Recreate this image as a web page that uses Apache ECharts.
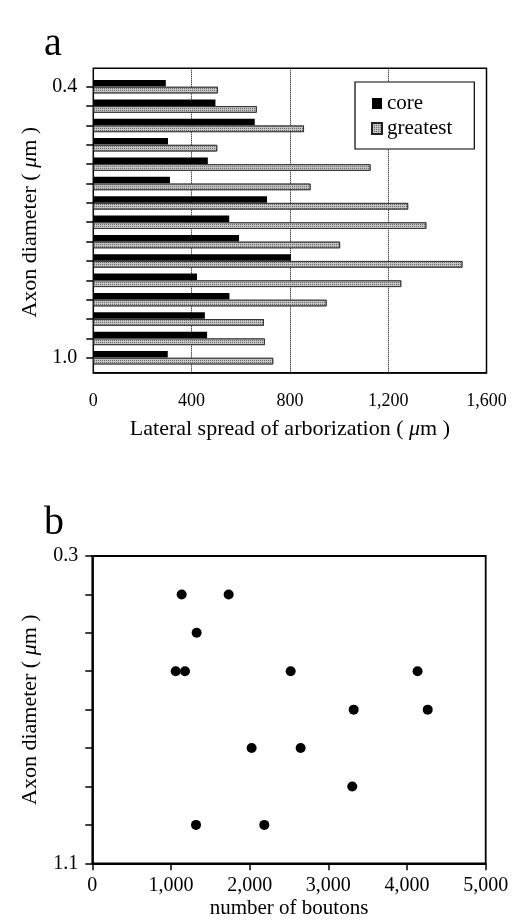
<!DOCTYPE html>
<html>
<head>
<meta charset="utf-8">
<script src="https://cdn.jsdelivr.net/npm/echarts@6/dist/echarts.min.js"></script>
<style>
  html, body { margin: 0; padding: 0; background: #fff; }
  #chart { width: 515px; height: 924px; }
</style>
</head>
<body>
<div id="chart"></div>
<script>
// panel a: lateral spread per axon (thin at top, thick at bottom)
const axonTickLabels = ['0.4', '', '', '', '', '', '', '', '', '', '', '', '', '', '1.0'];
const coreSpread = [295, 497, 657, 304, 466, 312, 707, 553, 593, 804, 422, 554, 454, 463, 303];
const greatestSpread = [507, 665, 857, 504, 1128, 884, 1281, 1355, 1004, 1502, 1253, 949, 694, 698, 732];

// panel b: boutons vs axon diameter
const boutonCount = [1136, 1733, 1326, 1060, 1178, 2521, 4134, 3322, 4263, 2025, 2648, 3304, 1318, 2186];
const boutonDiameter = [0.4, 0.4, 0.5, 0.6, 0.6, 0.6, 0.6, 0.7, 0.7, 0.8, 0.8, 0.9, 1.0, 1.0];

const font = 'Liberation Serif';
const black = '#000';
const fmtThousands = v => Number(v).toLocaleString('en-US');

const myChart = echarts.init(document.getElementById('chart'));

const option = {
  backgroundColor: '#fff',
  animation: false,
  textStyle: { fontFamily: font, color: black },
  title: [
    { text: 'a', left: 39, top: 19, textStyle: { fontFamily: font, fontSize: 40, fontWeight: 'normal', color: black } },
    { text: 'b', left: 39, top: 498, textStyle: { fontFamily: font, fontSize: 40, fontWeight: 'normal', color: black } }
  ],
  legend: {
    data: ['core', 'greatest'],
    orient: 'vertical',
    left: 355,
    top: 82,
    padding: [11, 22, 10, 16],
    icon: 'rect',
    itemWidth: 10,
    itemHeight: 11,
    itemGap: 4,
    borderColor: black,
    borderWidth: 1.2,
    backgroundColor: '#fff',
    textStyle: { fontFamily: font, fontSize: 21, color: black }
  },
  grid: [
    // bars of panel a (one band per axon)
    { left: 93.3, right: 28.5, top: 77, bottom: 556.6 },
    // frame of panel a
    { left: 93.3, right: 28.5, top: 68.3, bottom: 551.3, show: true, borderColor: black, borderWidth: 1.5, backgroundColor: 'transparent' },
    // panel b
    { left: 92.3, right: 29.3, top: 556, bottom: 60.7, show: true, borderColor: black, borderWidth: 1.8, backgroundColor: 'transparent' }
  ],
  xAxis: [
    { gridIndex: 0, type: 'value', min: 0, max: 1600, show: false },
    {
      gridIndex: 1, type: 'value', min: 0, max: 1600, interval: 400,
      axisLine: { show: true, onZero: false, lineStyle: { color: black, width: 1.5 } },
      axisTick: { show: false },
      axisLabel: { color: black, fontFamily: font, fontSize: 18, margin: 20, formatter: fmtThousands },
      splitLine: { show: true, lineStyle: { color: black, type: 'dotted', width: 1 } },
      name: 'Lateral spread of arborization ( {i|μ}m )',
      nameLocation: 'middle',
      nameGap: 46,
      nameTextStyle: { fontFamily: font, fontSize: 22, color: black, rich: { i: { fontFamily: font, fontSize: 22, fontStyle: 'italic', color: black } } }
    },
    {
      gridIndex: 2, type: 'value', min: 0, max: 5000, interval: 1000,
      axisLine: { show: true, onZero: false, lineStyle: { color: black, width: 1.8 } },
      axisTick: { show: true, length: 7, lineStyle: { color: black, width: 1.5 } },
      axisLabel: { color: black, fontFamily: font, fontSize: 20, margin: 12, formatter: fmtThousands },
      splitLine: { show: false },
      name: 'number of boutons',
      nameLocation: 'middle',
      nameGap: 35,
      nameTextStyle: { fontFamily: font, fontSize: 21, color: black }
    }
  ],
  yAxis: [
    {
      gridIndex: 0, type: 'category', inverse: true,
      data: axonTickLabels.map((t, i) => 'axon ' + (i + 1)),
      axisLine: { show: false },
      axisTick: { show: true, alignWithLabel: true, interval: 0, length: 7, lineStyle: { color: black, width: 1.5 } },
      axisLabel: { interval: 0, color: black, fontFamily: font, fontSize: 20, margin: 16, formatter: (v, i) => axonTickLabels[i] },
      splitLine: { show: false },
      name: 'Axon diameter ( {i|μ}m )',
      nameLocation: 'middle',
      nameGap: 52,
      nameTextStyle: { fontFamily: font, fontSize: 22, color: black, rich: { i: { fontFamily: font, fontSize: 22, fontStyle: 'italic', color: black } } }
    },
    { gridIndex: 1, type: 'value', show: false, min: 0, max: 1 },
    {
      gridIndex: 2, type: 'value', inverse: true, min: 0.3, max: 1.1, interval: 0.1,
      axisLine: { show: true, onZero: false, lineStyle: { color: black, width: 1.8 } },
      axisTick: { show: true, length: 7, lineStyle: { color: black, width: 1.5 } },
      axisLabel: {
        color: black, fontFamily: font, fontSize: 20, margin: 14,
        formatter: v => (Math.abs(v - 0.3) < 1e-6 || Math.abs(v - 1.1) < 1e-6) ? v.toFixed(1) : ''
      },
      splitLine: { show: false },
      name: 'Axon diameter ( {i|μ}m )',
      nameLocation: 'middle',
      nameGap: 51,
      nameTextStyle: { fontFamily: font, fontSize: 22, color: black, rich: { i: { fontFamily: font, fontSize: 22, fontStyle: 'italic', color: black } } }
    }
  ],
  series: [
    {
      name: 'core', type: 'bar', xAxisIndex: 0, yAxisIndex: 0,
      data: coreSpread,
      barWidth: 6.5, barGap: '5%',
      itemStyle: { color: black }
    },
    {
      name: 'greatest', type: 'bar', xAxisIndex: 0, yAxisIndex: 0,
      data: greatestSpread,
      barWidth: 6.5, barGap: '5%',
      itemStyle: {
        color: '#c4c4c4', borderColor: '#222', borderWidth: 0.7,
        decal: { symbol: 'rect', symbolSize: 1, dashArrayX: [1, 1], dashArrayY: [1, 1], color: '#6a6a6a', rotation: 0 }
      }
    },
    {
      name: 'boutons', type: 'scatter', xAxisIndex: 2, yAxisIndex: 2,
      data: boutonCount.map((c, i) => [c, boutonDiameter[i]]),
      symbol: 'circle', symbolSize: 10,
      itemStyle: { color: black, opacity: 1 }
    }
  ]
};

myChart.setOption(option);
</script>
</body>
</html>
